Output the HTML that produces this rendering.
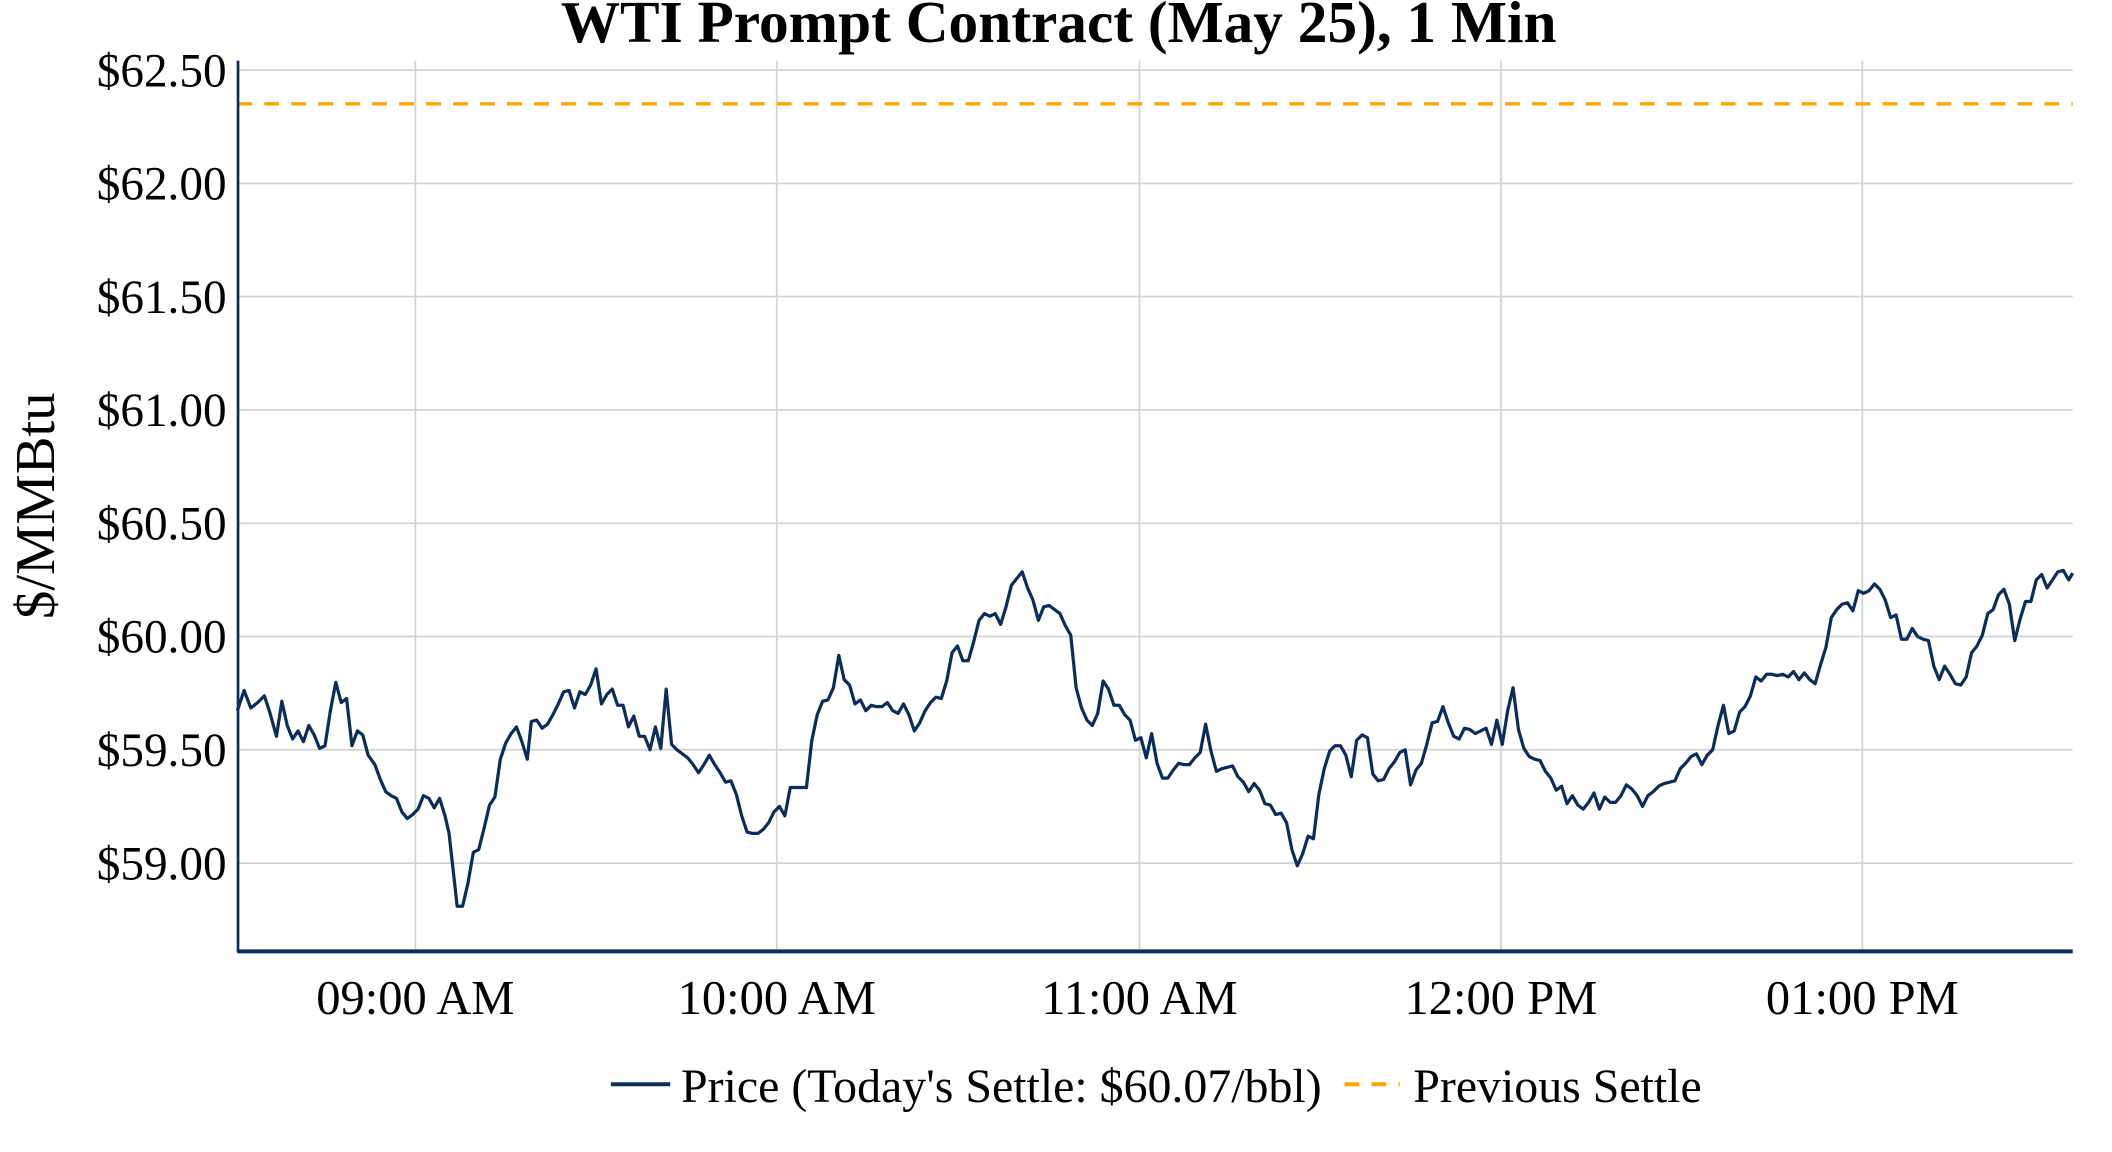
<!DOCTYPE html>
<html><head><meta charset="utf-8"><style>
html,body{margin:0;padding:0;background:#fff;width:2112px;height:1152px;overflow:hidden}
svg{display:block}
text{font-family:"Liberation Serif",serif;fill:#000}
</style></head><body>
<svg width="2112" height="1152" viewBox="0 0 1550 845.45" preserveAspectRatio="none">
<rect width="1550" height="846" fill="#fff"/>
<g transform="scale(0.9897)">
<g stroke="#d3d3d3" stroke-width="1.3">
<line x1="176" x2="1537" y1="52" y2="52"/><line x1="176" x2="1537" y1="136" y2="136"/><line x1="176" x2="1537" y1="220" y2="220"/><line x1="176" x2="1537" y1="304" y2="304"/><line x1="176" x2="1537" y1="388" y2="388"/><line x1="176" x2="1537" y1="472" y2="472"/><line x1="176" x2="1537" y1="556" y2="556"/><line x1="176" x2="1537" y1="640" y2="640"/>
<line x1="308" x2="308" y1="45" y2="705"/><line x1="576" x2="576" y1="45" y2="705"/><line x1="845" x2="845" y1="45" y2="705"/><line x1="1113" x2="1113" y1="45" y2="705"/><line x1="1381" x2="1381" y1="45" y2="705"/>
</g>
<line x1="176" x2="1537" y1="77" y2="77" stroke="#ffa500" stroke-width="2.5" stroke-dasharray="11,9"/>
<polyline fill="none" stroke="#0b2d5b" stroke-width="2.4" stroke-linejoin="round" points="176,527 181,512 186,525 191,521 196,516 200,528 205,546 209,520 213,538 217,548 221,542 225,550 229,538 233,545 237,555 241,553 245,527 249,506 253,521 257,518 261,553 265,542 269,545 273,560 278,567 282,578 286,587 290,590 294,592 298,602 302,607 306,604 310,600 314,590 318,592 322,599 326,592 330,605 333,618 336,645 339,672 343,672 347,655 351,632 355,630 359,614 363,597 367,591 371,563 375,551 379,544 383,539 387,550 391,563 394,535 398,534 402,540 406,537 410,530 414,522 418,513 422,512 426,525 430,513 434,515 438,508 442,496 446,522 450,515 454,511 458,523 462,523 466,539 470,531 474,546 478,546 482,556 486,539 490,555 494,511 498,552 502,556 506,559 510,562 514,567 518,573 522,567 526,560 530,567 534,573 538,580 542,579 546,589 550,605 554,617 558,618 562,618 566,615 570,610 574,602 578,598 582,605 586,584 590,584 594,584 598,584 602,549 606,530 610,520 614,519 618,510 622,486 626,504 630,508 634,522 638,519 642,527 646,523 650,524 654,524 658,521 662,527 666,529 670,522 674,530 678,542 682,536 686,527 690,521 694,517 698,518 702,505 706,484 710,479 714,490 718,490 722,476 726,460 730,455 734,457 738,455 742,463 746,450 750,434 754,429 758,424 762,436 766,445 770,460 774,450 778,449 782,452 786,455 790,464 794,471 798,510 802,525 806,534 810,538 814,529 818,505 822,511 826,523 830,523 834,530 838,534 842,549 846,547 850,562 854,544 858,566 862,577 866,577 870,571 874,566 878,567 882,567 886,562 890,558 894,537 898,557 902,572 906,570 910,569 914,568 918,576 922,580 926,587 930,581 934,586 938,596 942,597 946,604 950,603 954,610 958,630 962,642 966,633 970,620 974,622 978,589 982,570 986,557 990,553 994,553 998,560 1002,576 1006,549 1010,545 1014,547 1018,574 1022,579 1026,578 1030,570 1034,565 1038,558 1042,556 1046,582 1050,571 1054,566 1058,552 1062,536 1066,535 1070,524 1074,536 1078,546 1082,548 1086,540 1090,541 1094,544 1098,542 1102,540 1106,552 1110,534 1114,552 1118,527 1122,510 1126,541 1130,555 1134,561 1138,563 1142,564 1146,572 1150,577 1154,586 1158,583 1162,596 1166,590 1170,597 1174,600 1178,595 1182,588 1186,600 1190,591 1194,595 1198,595 1202,590 1206,582 1210,585 1214,590 1218,598 1222,590 1226,587 1230,583 1234,581 1238,580 1242,579 1246,570 1250,566 1254,561 1258,559 1262,567 1266,560 1270,556 1274,538 1278,523 1282,544 1286,542 1290,528 1294,524 1298,516 1302,502 1306,505 1310,500 1314,500 1318,501 1322,500 1326,502 1330,498 1334,504 1338,499 1342,504 1346,507 1350,493 1354,480 1358,458 1362,452 1366,448 1370,447 1374,453 1378,438 1382,440 1386,438 1390,433 1394,437 1398,445 1402,458 1406,456 1410,474 1414,474 1418,466 1422,472 1426,474 1430,475 1434,494 1438,504 1442,494 1446,500 1450,507 1454,508 1458,502 1462,484 1466,479 1470,471 1474,455 1478,452 1482,441 1486,437 1490,448 1494,475 1498,459 1502,446 1506,446 1510,430 1514,426 1518,436 1522,430 1526,424 1530,423 1534,430 1537,425"/>
<line x1="176.5" x2="176.5" y1="45" y2="706" stroke="#0b2d5b" stroke-width="2"/>
<line x1="176" x2="1537" y1="705.5" y2="705.5" stroke="#0b2d5b" stroke-width="3"/>
<g font-size="35" text-anchor="end">
<text x="168" y="64">$62.50</text><text x="168" y="148">$62.00</text><text x="168" y="232">$61.50</text><text x="168" y="316">$61.00</text><text x="168" y="400">$60.50</text><text x="168" y="484">$60.00</text><text x="168" y="568">$59.50</text><text x="168" y="652">$59.00</text>
</g>
<g font-size="36" text-anchor="middle">
<text x="308" y="752">09:00 AM</text><text x="576" y="752">10:00 AM</text><text x="845" y="752">11:00 AM</text><text x="1113" y="752">12:00 PM</text><text x="1381" y="752">01:00 PM</text>
</g>
<text x="785" y="31" font-size="44" font-weight="bold" text-anchor="middle">WTI Prompt Contract (May 25), 1 Min</text>
<text transform="translate(40,375) rotate(-90)" font-size="42" text-anchor="middle">$/MMBtu</text>
<line x1="453" x2="497" y1="804" y2="804" stroke="#0b2d5b" stroke-width="3"/>
<text x="505" y="817" font-size="35.5">Price (Today's Settle: $60.07/bbl)</text>
<line x1="997" x2="1038" y1="804" y2="804" stroke="#ffa500" stroke-width="3" stroke-dasharray="11,9"/>
<text x="1048" y="817" font-size="35.5">Previous Settle</text>
</g>
</svg>
</body></html>
